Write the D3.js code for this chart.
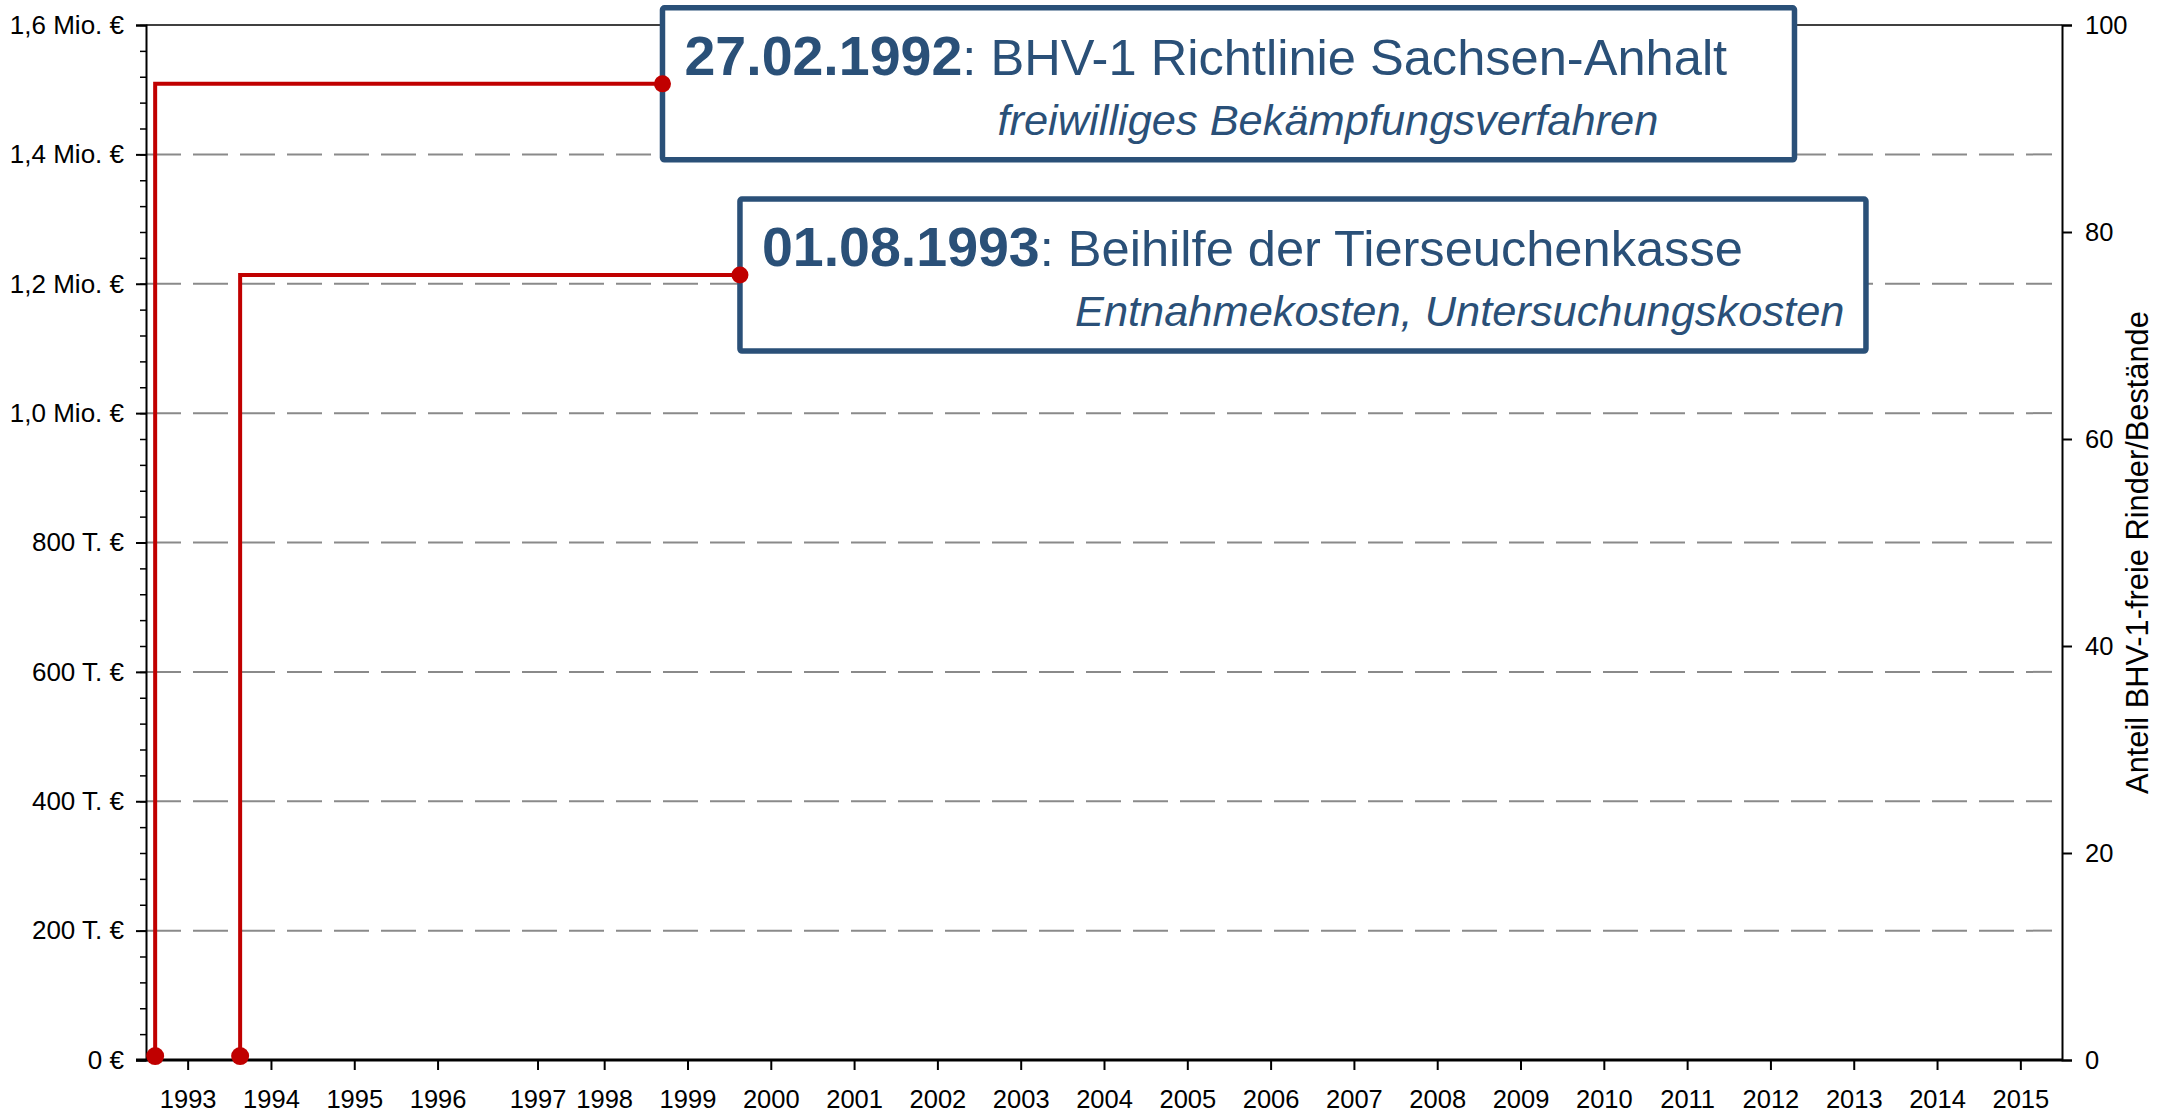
<!DOCTYPE html>
<html>
<head>
<meta charset="utf-8">
<script src="https://cdn.jsdelivr.net/npm/d3@7/dist/d3.min.js"></script>
<style>
  body { margin: 0; background: #fff; }
  svg { display: block; font-family: "Liberation Sans", Arial, sans-serif; }
</style>
</head>
<body>
<div id="chart"></div>
<script>
'use strict';
// x axis: year positions (1997 tick sits off the regular grid in the original)
var yearTicks = [1993, 1994, 1995, 1996, 1997.2, 1998, 1999, 2000, 2001, 2002, 2003, 2004,
    2005, 2006, 2007, 2008, 2009, 2010, 2011, 2012, 2013, 2014, 2015];
var yearLabels = ['1993', '1994', '1995', '1996', '1997', '1998', '1999', '2000', '2001', '2002',
    '2003', '2004', '2005', '2006', '2007', '2008', '2009', '2010', '2011', '2012', '2013', '2014', '2015'];

// left axis: costs in euro
var costTicks = [0, 200000, 400000, 600000, 800000, 1000000, 1200000, 1400000, 1600000];
var costLabels = ['0 €', '200 T. €', '400 T. €', '600 T. €', '800 T. €',
    '1,0 Mio. €', '1,2 Mio. €', '1,4 Mio. €', '1,6 Mio. €'];
var costGrid = [200000, 400000, 600000, 800000, 1000000, 1200000, 1400000];

// right axis: share of BHV-1 free cattle/herds (%)
var shareTicks = [0, 20, 40, 60, 80, 100];

// events (annotation markers)
var eventYear = [1992.61, 1993.63];
var eventBase = [6000, 6000];
var eventLevel = [1509000, 1213500];
var eventBoxYear = [1998.7, 1999.63];
var eventDates = ['27.02.1992', '01.08.1993'];
var eventTitles = [': BHV-1 Richtlinie Sachsen-Anhalt', ': Beihilfe der Tierseuchenkasse'];
var eventNotes = ['freiwilliges Bekämpfungsverfahren', 'Entnahmekosten, Untersuchungskosten'];

var width = 2177, height = 1116;
var mLeft = 146, mRight = 2062, mTop = 25, mBottom = 1060;
var blue = '#2a5078', red = '#c00000';
var boxW = [1132, 1126], boxH = 152;

var svg = d3.select('#chart').append('svg')
    .attr('width', width)
    .attr('height', height);

var x = d3.scaleLinear().domain([1992.5, 2015.5]).range([mLeft, mRight]);
var y = d3.scaleLinear().domain([0, 1600000]).range([mBottom, mTop]);
var y2 = d3.scaleLinear().domain([0, 100]).range([mBottom, mTop]);

// dashed grid
svg.append('g').selectAll('line')
    .data(costGrid)
    .enter().append('line')
    .attr('x1', mLeft).attr('x2', mRight - 10)
    .attr('y1', function (d) { return y(d); })
    .attr('y2', function (d) { return y(d); })
    .style('stroke', '#8a8a8a')
    .style('stroke-width', 2)
    .style('stroke-dasharray', '35,12');

// top frame line
svg.append('line')
    .attr('x1', mLeft).attr('x2', mRight)
    .attr('y1', y(1600000)).attr('y2', y(1600000))
    .style('stroke', '#000').style('stroke-width', 1.5);

// left axis: minor ticks then major
var minor = d3.range(0, 1600001, 40000);
svg.append('g')
    .attr('transform', 'translate(' + mLeft + ',0)')
    .call(d3.axisLeft(y).tickValues(minor).tickSize(6).tickFormat(''))
    .call(function (g) { g.select('.domain').remove(); })
    .selectAll('line').style('stroke-width', 1.5);

var yAxis = svg.append('g')
    .attr('transform', 'translate(' + mLeft + ',0)')
    .call(d3.axisLeft(y).tickValues(costTicks).tickSize(10).tickPadding(12)
        .tickFormat(function (d, i) { return costLabels[i]; }));
yAxis.select('.domain').style('stroke-width', 2);
yAxis.selectAll('line').style('stroke-width', 2);
yAxis.selectAll('text').style('font-size', '26px').style('fill', '#000');

// right axis
var rAxis = svg.append('g')
    .attr('transform', 'translate(' + mRight + ',0)')
    .call(d3.axisRight(y2).tickValues(shareTicks).tickSize(10).tickPadding(13));
rAxis.select('.domain').style('stroke-width', 2);
rAxis.selectAll('line').style('stroke-width', 2);
rAxis.selectAll('text').style('font-size', '25.5px').style('fill', '#000');

svg.append('text')
    .attr('transform', 'translate(2148,' + ((mTop + mBottom) / 2 + 10) + ') rotate(-90)')
    .attr('text-anchor', 'middle')
    .style('font-size', '30.8px')
    .style('fill', '#000')
    .text('Anteil BHV-1-freie Rinder/Bestände');

// bottom axis
var xAxis = svg.append('g')
    .attr('transform', 'translate(0,' + mBottom + ')')
    .call(d3.axisBottom(x).tickValues(yearTicks).tickSize(10).tickPadding(20)
        .tickFormat(function (d, i) { return yearLabels[i]; }));
xAxis.select('.domain').attr('d', 'M' + (mLeft - 10) + ',0H' + mRight).style('stroke-width', 3);
xAxis.selectAll('line').style('stroke-width', 2);
xAxis.selectAll('text').style('font-size', '25.5px').style('fill', '#000');

// annotation boxes
var events = eventYear.map(function (d, i) {
    return { x: d, base: eventBase[i], level: eventLevel[i], bx: eventBoxYear[i],
        date: eventDates[i], title: eventTitles[i], note: eventNotes[i], w: boxW[i] };
});

var boxes = svg.append('g').selectAll('g')
    .data(events)
    .enter().append('g')
    .attr('transform', function (d) { return 'translate(' + x(d.bx) + ',' + y(d.level) + ')'; });

boxes.append('rect')
    .attr('x', 0).attr('y', -boxH / 2)
    .attr('width', function (d) { return d.w; })
    .attr('height', boxH)
    .attr('rx', 2)
    .style('fill', '#fff')
    .style('stroke', blue)
    .style('stroke-width', 5.5);

var title = boxes.append('text')
    .attr('x', 22).attr('y', -9)
    .style('fill', blue);
title.append('tspan')
    .style('font-weight', 'bold').style('font-size', '55.5px')
    .text(function (d) { return d.date; });
title.append('tspan')
    .style('font-size', '50.6px')
    .text(function (d) { return d.title; });

boxes.append('text')
    .attr('x', 335).attr('y', 51)
    .style('fill', blue)
    .style('font-size', '43.4px')
    .style('font-style', 'italic')
    .text(function (d) { return d.note; });

// red leader lines
var lineGen = d3.line()
    .x(function (d) { return x(d[0]); })
    .y(function (d) { return y(d[1]); });

svg.append('g').selectAll('path')
    .data(events)
    .enter().append('path')
    .attr('d', function (d) { return lineGen([[d.x, d.base], [d.x, d.level], [d.bx, d.level]]); })
    .style('fill', 'none')
    .style('stroke', red)
    .style('stroke-width', 4)
    .style('stroke-linejoin', 'miter');

svg.append('g').selectAll('circle')
    .data(events)
    .enter().append('circle')
    .attr('cx', function (d) { return x(d.x); })
    .attr('cy', function (d) { return y(d.base); })
    .attr('r', 9)
    .style('fill', red);

svg.append('g').selectAll('circle')
    .data(events)
    .enter().append('circle')
    .attr('cx', function (d) { return x(d.bx); })
    .attr('cy', function (d) { return y(d.level); })
    .attr('r', 8.5)
    .style('fill', red);
</script>
</body>
</html>
